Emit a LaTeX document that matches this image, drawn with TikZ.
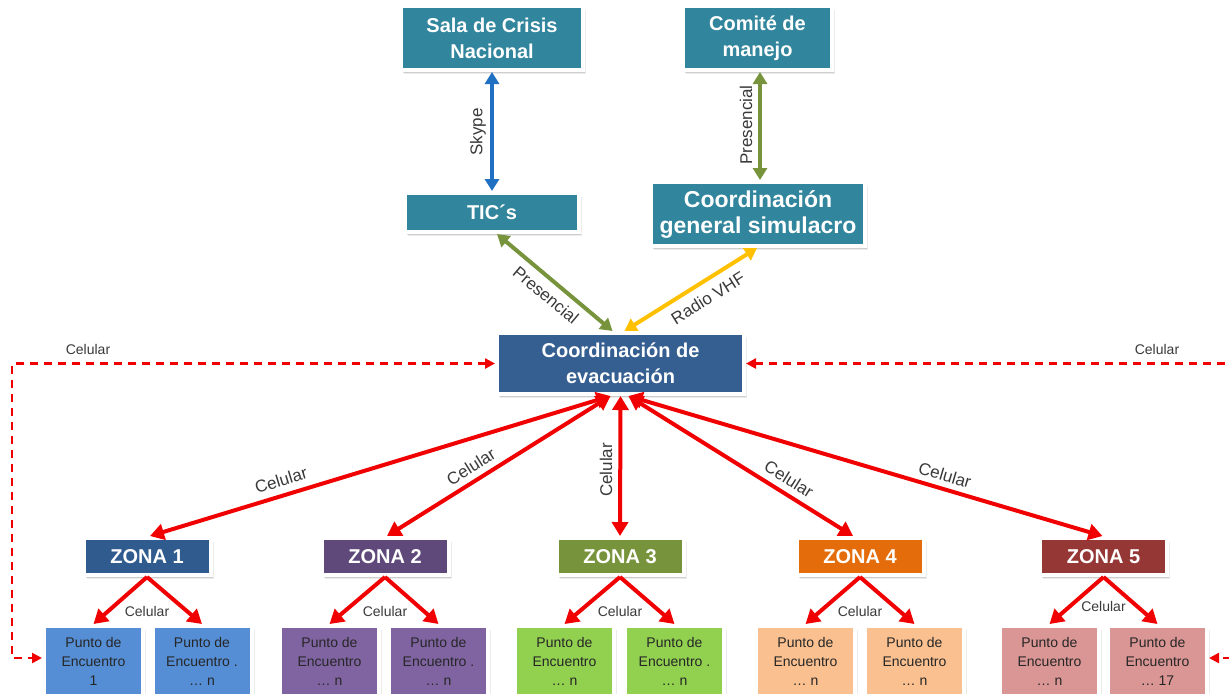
\documentclass[tikz,border=0pt]{standalone}
\usepackage{fontspec}
\setmainfont{Liberation Sans}
\usetikzlibrary{arrows.meta,shadows,calc}
\definecolor{tealc}{HTML}{31859C}
\definecolor{evacc}{HTML}{365F91}
\definecolor{z1c}{HTML}{2F5B8F}
\definecolor{z2c}{HTML}{5F497A}
\definecolor{z3c}{HTML}{77933C}
\definecolor{z4c}{HTML}{E46C0A}
\definecolor{z5c}{HTML}{953735}
\definecolor{p1c}{HTML}{558ED5}
\definecolor{p2c}{HTML}{8064A2}
\definecolor{p3c}{HTML}{92D050}
\definecolor{p4c}{HTML}{FAC090}
\definecolor{p5c}{HTML}{D99694}
\definecolor{redc}{HTML}{F00000}
\definecolor{bluec}{HTML}{1F6FC2}
\definecolor{greenc}{HTML}{77933C}
\definecolor{yellowc}{HTML}{FFC000}
\definecolor{labc}{HTML}{3A3A3A}
\begin{document}
\begin{tikzpicture}[x=0.5pt,y=-0.5pt,
  box/.style={draw=white,line width=2pt,text=white,align=center,inner sep=0pt,
    font=\fontsize{10}{13}\selectfont\bfseries,
    general shadow={shadow xshift=1.6pt,shadow yshift=-2.2pt,opacity=0.08,fill=black},
    general shadow={shadow xshift=1.1pt,shadow yshift=-1.6pt,opacity=0.12,fill=black}},
  zone/.style={box,minimum width=63.5pt,minimum height=18.5pt},
  punto/.style={box,minimum width=49.5pt,minimum height=35pt,text=black!85,
    font=\fontsize{7}{9.5}\selectfont},
  lab/.style={font=\fontsize{8.5}{10}\selectfont,text=labc,inner sep=0pt},
  labs/.style={font=\fontsize{7}{9}\selectfont,text=labc,inner sep=0pt},
  redarr/.style={draw=redc,line width=2pt,{Triangle[length=7pt,width=8pt]}-{Triangle[length=7pt,width=8pt]}},
  downarr/.style={draw=redc,line width=2pt,-{Triangle[length=7pt,width=8pt]}},
  dasharr/.style={draw=redc,line width=1.2pt,dash pattern=on 4pt off 3pt,
    {Triangle[length=5pt,width=5pt]}-{Triangle[length=5pt,width=5pt]}},
  colarr/.style={line width=2pt,{Triangle[length=6pt,width=7pt]}-{Triangle[length=6pt,width=7pt]}}
]
\clip (0,0) rectangle (1229,693);
\fill[white] (0,0) rectangle (1229,693);

% top boxes
\node[box,fill=tealc,minimum width=91pt,minimum height=32pt] (sala) at (492,38) {Sala de Crisis\\Nacional};
\node[box,fill=tealc,minimum width=74.5pt,minimum height=32pt] (comite) at (757.5,38) {Comité de\\manejo};
\node[box,fill=tealc,minimum width=87pt,minimum height=19.5pt] (tic) at (492,212.5) {TIC´s};
\node[box,fill=tealc,minimum width=107pt,minimum height=32pt,font=\fontsize{11.5}{13}\selectfont\bfseries] (gen) at (758,214) {Coordinación\\general simulacro};
\node[box,fill=evacc,minimum width=123.5pt,minimum height=30.5pt] (evac) at (620.5,363.5) {Coordinación de\\evacuación};

% zones
\node[zone,fill=z1c] (z1) at (147,556.5) {ZONA 1};
\node[zone,fill=z2c] (z2) at (385,556.5) {ZONA 2};
\node[zone,fill=z3c] (z3) at (620,556.5) {ZONA 3};
\node[zone,fill=z4c] (z4) at (860,556.5) {ZONA 4};
\node[zone,fill=z5c] (z5) at (1103.5,556.5) {ZONA 5};

% puntos
\node[punto,fill=p1c] (p11) at (93.5,661) {Punto de\\Encuentro\\1};
\node[punto,fill=p1c] (p12) at (202,661) {Punto de\\Encuentro .\\… n};
\node[punto,fill=p2c] (p21) at (329.5,661) {Punto de\\Encuentro\\… n};
\node[punto,fill=p2c] (p22) at (438.5,661) {Punto de\\Encuentro .\\… n};
\node[punto,fill=p3c] (p31) at (564.5,661) {Punto de\\Encuentro\\… n};
\node[punto,fill=p3c] (p32) at (674.5,661) {Punto de\\Encuentro .\\… n};
\node[punto,fill=p4c] (p41) at (805.5,661) {Punto de\\Encuentro\\… n};
\node[punto,fill=p4c] (p42) at (914.5,661) {Punto de\\Encuentro\\… n};
\node[punto,fill=p5c] (p51) at (1049.5,661) {Punto de\\Encuentro\\… n};
\node[punto,fill=p5c] (p52) at (1157.5,661) {Punto de\\Encuentro\\… 17};

% top connectors
\draw[colarr,draw=bluec] (sala.south) -- (tic.north);
\node[lab,rotate=90] (lskype) at (478,132) {Skype};
\draw[colarr,draw=greenc] ($(comite.south)+(2.5,0)$) -- ($(gen.north)+(2,0)$);
\node[lab,rotate=90] (lpres1) at (746,125) {Presencial};
\draw[colarr,draw=greenc] ($(tic.south)+(5,0)$) -- ($(evac.north)+(-8,0)$);
\node[lab,rotate=-40] (lpres2) at (546,295) {Presencial};
\draw[colarr,draw=yellowc] ($(evac.north)+(4,0)$) -- ($(gen.south)+(-1,0)$);
\node[lab,rotate=32] (lradio) at (708,298) {Radio VHF};

% evac to zones
\draw[redarr] ($(evac.south)+(-10,0)$) -- ($(z1.north)+(3,0)$);
\draw[redarr] ($(evac.south)+(-10,0)$) -- ($(z2.north)+(2,0)$);
\draw[redarr] (evac.south) -- (z3.north);
\draw[redarr] ($(evac.south)+(8,0)$) -- ($(z4.north)+(-7,0)$);
\draw[redarr] ($(evac.south)+(8,0)$) -- ($(z5.north)+(-1,0)$);
\node[lab,rotate=17] (lc1) at (281,480) {Celular};
\node[lab,rotate=32] (lc2) at (471,467) {Celular};
\node[lab,rotate=90] (lc3) at (606,470) {Celular};
\node[lab,rotate=-32] (lc4) at (789,479) {Celular};
\node[lab,rotate=-16.5] (lc5) at (945,475) {Celular};

% zones to puntos
\foreach \z/\a/\b/\dy in {z1/p11/p12/34,z2/p21/p22/34,z3/p31/p32/34,z4/p41/p42/34,z5/p51/p52/29}{
  \draw[downarr] (\z.south) -- (\a.north);
  \draw[downarr] (\z.south) -- (\b.north);
  \node[labs] (lab\z) at ($(\z.south)+(0,\dy)$) {Celular};
}

% dashed connectors
\draw[dasharr] (evac.west) -- (12,363.5) |- ($(p11.west)+(0,-3)$);
\node[labs] (ldl) at (88,349) {Celular};
\draw[dasharr] (evac.east) -- (1245,363.5) |- ($(p52.east)+(0,-3)$);
\node[labs] (ldr) at (1157,349) {Celular};
\end{tikzpicture}
\end{document}
